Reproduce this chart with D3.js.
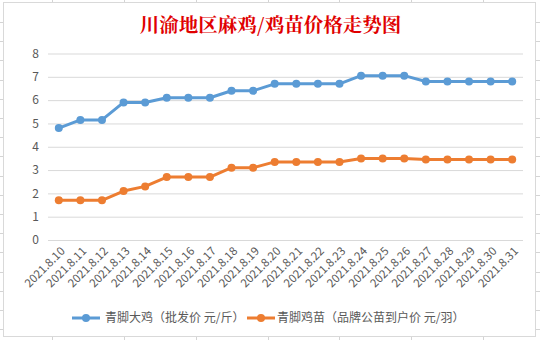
<!DOCTYPE html>
<html><head><meta charset="utf-8">
<script src="https://cdn.jsdelivr.net/npm/d3@7"></script>
<style>html,body{margin:0;padding:0;background:#fff;}svg{display:block;}</style>
</head><body>
<svg id="c" width="540" height="340"></svg>
<script>
const dates = ["2021.8.10","2021.8.11","2021.8.12","2021.8.13","2021.8.14","2021.8.15","2021.8.16","2021.8.17","2021.8.18","2021.8.19","2021.8.20","2021.8.21","2021.8.22","2021.8.23","2021.8.24","2021.8.25","2021.8.26","2021.8.27","2021.8.28","2021.8.29","2021.8.30","2021.8.31"];
const chickenPrice = [4.8,5.15,5.15,5.9,5.9,6.1,6.1,6.1,6.4,6.4,6.7,6.7,6.7,6.7,7.05,7.05,7.05,6.8,6.8,6.8,6.8,6.8];
const chickPrice = [1.7,1.7,1.7,2.1,2.3,2.7,2.7,2.7,3.1,3.1,3.35,3.35,3.35,3.35,3.5,3.5,3.5,3.45,3.45,3.45,3.45,3.45];
const yTicks = [0,1,2,3,4,5,6,7,8];
const seriesNames = ["青脚大鸡（批发价 元/斤）","青脚鸡苗（品牌公苗到户价 元/羽）"];
const colors = ["#5B9BD5","#ED7D31"];
const title = "川渝地区麻鸡/鸡苗价格走势图";

const svg = d3.select("#c");
const font = "'Microsoft YaHei','Noto Sans CJK SC','Noto Sans',sans-serif";

// spreadsheet background grid
const colX = [52,124,196,268,339,411,483];
svg.selectAll("line.col").data(colX).enter().append("line")
  .attr("x1",d=>d+0.5).attr("x2",d=>d+0.5).attr("y1",0).attr("y2",340)
  .attr("stroke","#d4d4d4");
const rowY = d3.range(0,18).map(i=>22+i*19.2);
svg.selectAll("line.row").data(rowY).enter().append("line")
  .attr("x1",0).attr("x2",540).attr("y1",d=>Math.round(d)+0.5).attr("y2",d=>Math.round(d)+0.5)
  .attr("stroke","#d4d4d4");

// chart area
svg.append("rect").attr("x",3.5).attr("y",2.5).attr("width",532).attr("height",334)
  .attr("fill","#fff").attr("stroke","#d9d9d9");

svg.append("text").attr("x",270.5).attr("y",32).attr("text-anchor","middle")
  .attr("font-family","'Noto Serif CJK SC','SimSun','Noto Sans CJK SC',serif").attr("font-weight","bold")
  .attr("font-size",19.5).attr("fill","#E00000").text(title);

const x = d3.scaleBand().domain(dates).range([48,523]);
const y = d3.scaleLinear().domain([0,8]).range([240,53.5]);

// gridlines
const yAxis = d3.axisLeft(y).tickValues(yTicks).tickSize(-(523-48)).tickPadding(9);
const gy = svg.append("g").attr("transform","translate(48,0)").call(yAxis);
gy.select(".domain").remove();
gy.selectAll(".tick line").attr("stroke","#d9d9d9");
gy.selectAll(".tick text").attr("fill","#595959").attr("font-size",12).attr("font-family",font);

// x labels
const xAxis = d3.axisBottom(x).tickSize(0).tickPadding(0);
const gx = svg.append("g").attr("transform","translate(0,240)").call(xAxis);
gx.select(".domain").remove();
gx.selectAll(".tick text")
  .attr("fill","#595959").attr("font-size",11.5).attr("font-family",font)
  .attr("text-anchor","end").attr("dy","0.35em")
  .attr("transform","translate(4,9) rotate(-45)").attr("y",0).attr("x",0);

const cx = d => x(d) + x.bandwidth()/2;
[chickenPrice, chickPrice].forEach((vals,i)=>{
  const pts = dates.map((d,j)=>[cx(d), y(vals[j])]);
  svg.append("path").attr("d", d3.line()(pts)).attr("fill","none")
    .attr("stroke",colors[i]).attr("stroke-width",3).attr("stroke-linejoin","round").attr("stroke-linecap","round");
  svg.append("g").selectAll("circle").data(pts).enter().append("circle")
    .attr("cx",d=>d[0]).attr("cy",d=>d[1]).attr("r",4).attr("fill",colors[i]);
});

// legend
const legendItems = [{x:72, tx:105},{x:247, tx:277}];
legendItems.forEach((L,i)=>{
  const g = svg.append("g");
  g.append("line").attr("x1",L.x).attr("x2",L.x+28).attr("y1",318).attr("y2",318)
    .attr("stroke",colors[i]).attr("stroke-width",3);
  g.append("circle").attr("cx",L.x+14).attr("cy",318).attr("r",4).attr("fill",colors[i]);
  g.append("text").attr("x",L.tx).attr("y",318).attr("dy","0.35em")
    .attr("font-size",12).attr("fill","#595959").attr("font-family",font).text(seriesNames[i]);
});
</script>
</body></html>
